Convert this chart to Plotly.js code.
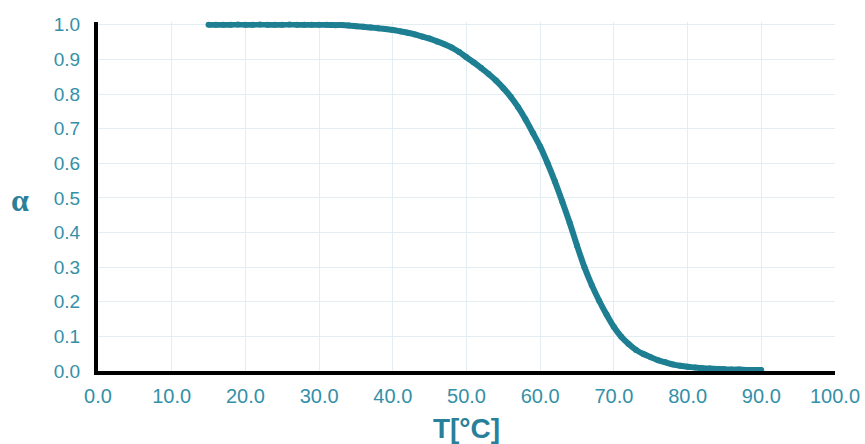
<!DOCTYPE html>
<html>
<head>
<meta charset="utf-8">
<script src="https://cdn.plot.ly/plotly-3.0.1.min.js"></script>
<style>html,body{margin:0;padding:0;background:#fff;}#chart{width:865px;height:444px;}</style>
</head>
<body>
<div id="chart"></div>
<script>
// Temperature [°C]
const temperature = [15,16,17,18,19,20,21,22,23,24,25,26,27,28,29,30,31,32,33,34,35,36,37,38,39,40,
  41,42,43,44,45,46,47,48,49,50,51,52,53,54,55,56,57,58,59,60,61,62,63,64,65,66,67,68,69,70,
  71,72,73,74,75,76,77,78,79,80,81,82,83,84,85,86,87,88,89,90];
// Conversion alpha
const alpha = [1.000,1.000,1.000,1.000,1.001,1.000,1.000,1.001,1.000,1.000,1.000,1.001,1.000,1.000,1.000,1.000,1.000,0.999,0.999,0.998,0.996,0.994,0.992,0.990,0.988,0.985,
  0.981,0.977,0.972,0.966,0.960,0.952,0.944,0.934,0.921,0.906,0.891,0.875,0.858,0.839,0.817,0.792,0.762,0.727,0.688,0.648,0.600,0.547,0.489,0.428,0.362,0.300,0.248,0.203,0.163,0.127,
  0.099,0.078,0.061,0.049,0.040,0.031,0.025,0.019,0.015,0.012,0.010,0.008,0.007,0.006,0.005,0.004,0.004,0.003,0.003,0.003];
const xTicks = [0,10,20,30,40,50,60,70,80,90,100];
const xTickLabels = ["0.0","10.0","20.0","30.0","40.0","50.0","60.0","70.0","80.0","90.0","100.0"];
const yTicks = [0,0.1,0.2,0.3,0.4,0.5,0.6,0.7,0.8,0.9,1.0];
const yTickLabels = ["0.0","0.1","0.2","0.3","0.4","0.5","0.6","0.7","0.8","0.9","1.0"];

const teal = '#1e7f93';
const labelColor = '#3490a8';
const gridColor = '#e2eef2';

const trace = {
  x: temperature, y: alpha, type: 'scatter', mode: 'lines+markers',
  line: {color: teal, width: 6, shape: 'spline', smoothing: 0.8},
  marker: {color: teal, size: 6},
  cliponaxis: false, hoverinfo: 'skip'
};

const layout = {
  width: 865, height: 444,
  margin: {l: 98, r: 30, t: 21.5, b: 73},
  paper_bgcolor: '#fff', plot_bgcolor: '#fff',
  showlegend: false,
  font: {family: 'Liberation Sans, Arial, sans-serif'},
  xaxis: {
    range: [0, 100], tickvals: xTicks, ticktext: xTickLabels,
    showgrid: true, gridcolor: gridColor, gridwidth: 1, zeroline: false,
    showline: true, linecolor: '#000', linewidth: 4,
    ticks: 'outside', ticklen: 4, tickcolor: 'rgba(0,0,0,0)',
    tickfont: {size: 20, color: labelColor},
    title: {text: 'T[°C]', font: {size: 28, color: '#2a7f99', family: 'Liberation Sans, Arial, sans-serif', weight: 'bold'}, standoff: 14}
  },
  yaxis: {
    range: [0, 1.008], tickvals: yTicks, ticktext: yTickLabels,
    showgrid: true, gridcolor: gridColor, gridwidth: 1, zeroline: false,
    showline: true, linecolor: '#000', linewidth: 4,
    ticks: 'outside', ticklen: 10, tickcolor: 'rgba(0,0,0,0)',
    tickfont: {size: 19, color: labelColor}
  },
  annotations: [{
    text: 'α', xref: 'paper', yref: 'paper', x: -0.106, y: 0.49,
    xanchor: 'center', yanchor: 'middle', showarrow: false,
    font: {size: 32, color: '#2a7f99', family: 'Liberation Serif, Times New Roman, serif', weight: 'bold'}
  }]
};

Plotly.newPlot('chart', [trace], layout, {staticPlot: true, displayModeBar: false});
</script>
</body>
</html>
